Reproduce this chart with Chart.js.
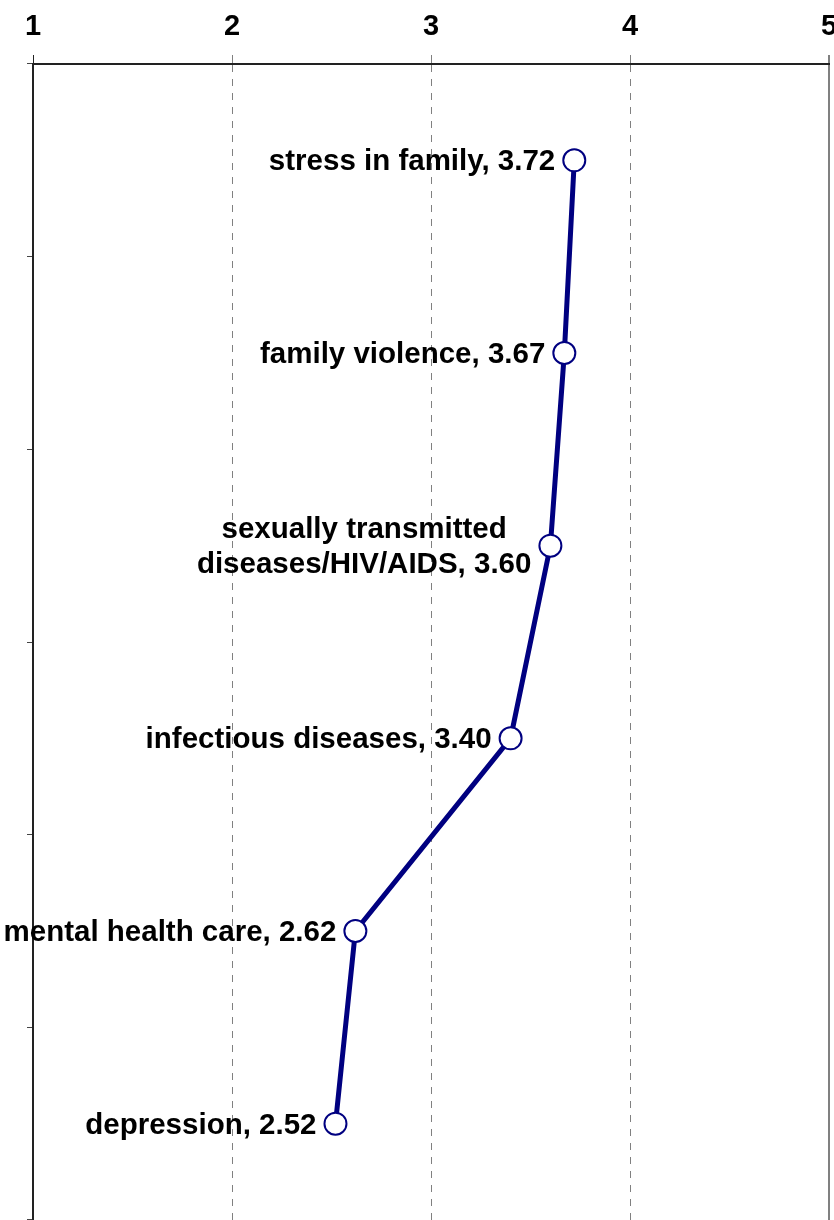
<!DOCTYPE html>
<html>
<head>
<meta charset="utf-8">
<script src="https://cdn.jsdelivr.net/npm/chart.js@4.4.0/dist/chart.umd.min.js"></script>
<style>
  body { margin: 0; background: #fff; }
  #wrap { width: 834px; height: 1220px; }
</style>
</head>
<body>
<div id="wrap"><canvas id="chart"></canvas></div>
<script>
const categories = [
  'stress in family',
  'family violence',
  'sexually transmitted\ndiseases/HIV/AIDS',
  'infectious diseases',
  'mental health care',
  'depression'
];
const scores = [3.72, 3.67, 3.60, 3.40, 2.62, 2.52];
const xTicks = [1, 2, 3, 4, 5];

const FONT = 'Liberation Sans, Arial, sans-serif';
const NAVY = '#000080';

// labels to the left of each point, "name, value"
const pointLabels = {
  id: 'pointLabels',
  afterDatasetsDraw(chart) {
    const ctx = chart.ctx;
    const meta = chart.getDatasetMeta(0);
    ctx.save();
    ctx.font = 'bold 29.5px ' + FONT;
    ctx.fillStyle = '#000';
    ctx.textBaseline = 'middle';
    ctx.textAlign = 'center';
    meta.data.forEach((pt, i) => {
      const lines = categories[i].split('\n');
      lines[lines.length - 1] += ', ' + scores[i].toFixed(2);
      const widths = lines.map(l => ctx.measureText(l).width);
      const maxW = Math.max(...widths);
      const right = pt.x - 19;
      const cx = right - maxW / 2;
      const lh = 35;
      const y0 = pt.y + 2 - (lines.length - 1) * lh / 2;
      lines.forEach((l, j) => ctx.fillText(l, cx, y0 + j * lh));
    });
    ctx.restore();
  }
};

new Chart(document.getElementById('chart').getContext('2d'), {
  type: 'line',
  data: {
    labels: categories,
    datasets: [{
      data: scores,
      borderColor: NAVY,
      borderWidth: 5,
      pointRadius: 11,
      pointHoverRadius: 11,
      pointBorderWidth: 2,
      pointBackgroundColor: '#fff',
      pointBorderColor: NAVY,
      tension: 0,
      clip: false
    }]
  },
  options: {
    indexAxis: 'y',
    responsive: true,
    maintainAspectRatio: false,
    animation: false,
    layout: { autoPadding: false, padding: { top: 0, left: 0, right: 5, bottom: 0 } },
    plugins: { legend: { display: false }, tooltip: { enabled: false } },
    scales: {
      x: {
        type: 'linear',
        position: 'top',
        min: 1,
        max: 5,
        afterBuildTicks: scale => { scale.ticks = xTicks.map(v => ({ value: v })); },
        afterFit: scale => {
          scale.height = 64;
          scale.paddingLeft = 0;
          scale.paddingRight = 0;
        },
        ticks: {
          color: '#000',
          padding: 11,
          font: { family: FONT, size: 29, weight: 'bold' }
        },
        grid: {
          color: c => (c.tick && c.tick.value === 1) ? 'rgba(0,0,0,0)' : '#808080',
          lineWidth: c => (c.tick && c.tick.value === 5) ? 2 : 1,
          tickLength: 9,
          tickColor: c => (c.tick && c.tick.value === 1) ? '#222' : '#808080'
        },
        border: {
          display: true,
          color: '#222',
          width: 2,
          dash: c => (c.tick && c.tick.value === 5) ? [] : [7, 7]
        }
      },
      y: {
        type: 'category',
        offset: true,
        afterFit: scale => { scale.width = 33; },
        ticks: { display: false },
        grid: {
          offset: true,
          drawOnChartArea: false,
          tickLength: 6,
          tickColor: '#444'
        },
        border: { display: true, color: '#222', width: 2 }
      }
    }
  },
  plugins: [pointLabels]
});
</script>
</body>
</html>
